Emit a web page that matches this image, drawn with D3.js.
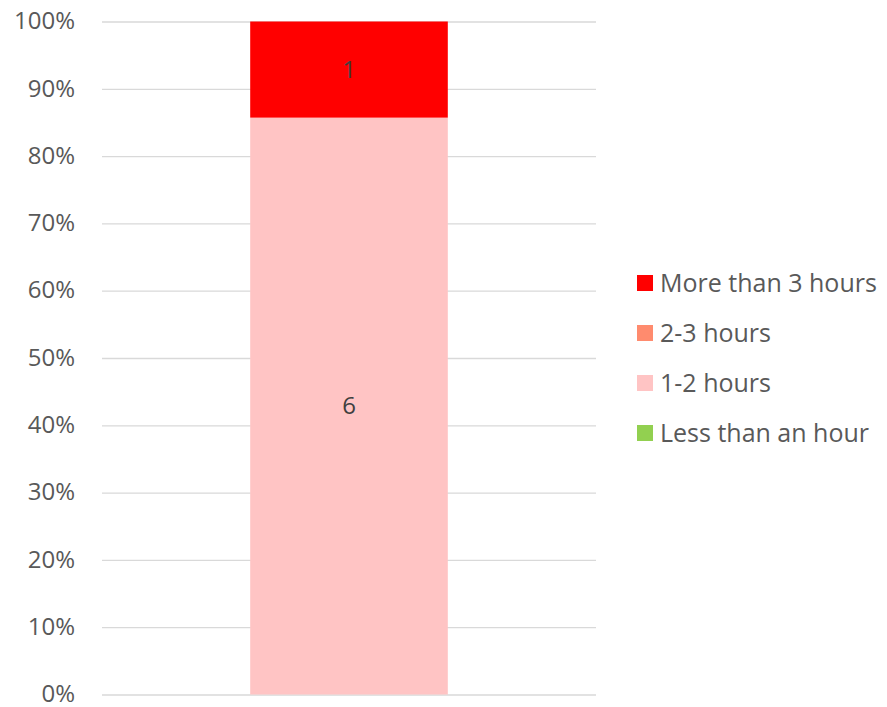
<!DOCTYPE html>
<html>
<head>
<meta charset="utf-8">
<script src="https://cdn.jsdelivr.net/npm/d3@7"></script>
<style>
  body { margin: 0; background: #fff; }
  svg { display: block; }
  svg text { font-family: 'Open Sans', 'Lato', sans-serif; }
</style>
</head>
<body>
<div id="chart"></div>
<script>

// data
var categories = ['Responses'];
var seriesNames = ['Less than an hour', '1-2 hours', '2-3 hours', 'More than 3 hours'];
var seriesColors = ['#92D050', '#FFC4C4', '#FF8B6E', '#FF0000'];
var seriesValues = [[0], [6], [0], [1]];
var tickValues = [0, 0.1, 0.2, 0.3, 0.4, 0.5, 0.6, 0.7, 0.8, 0.9, 1];

var width = 887, height = 707;
var plot = { left: 102, right: 596, top: 21.5, bottom: 694.5 };
var fontSize = '24px';

var svg = d3.select('#chart').append('svg')
  .attr('width', width)
  .attr('height', height);

var x = d3.scaleBand()
  .domain(categories)
  .range([plot.left, plot.right])
  .paddingInner(0.6)
  .paddingOuter(0.3);

var y = d3.scaleLinear()
  .domain([0, 1])
  .range([plot.bottom, plot.top]);

// build stacked percentages
var rows = categories.map(function(c, i) {
  var r = { cat: c };
  var total = 0;
  seriesNames.forEach(function(n, j) { r[n] = seriesValues[j][i]; total += seriesValues[j][i]; });
  r.total = total;
  return r;
});

var stack = d3.stack()
  .keys(seriesNames)
  .value(function(d, key) { return d[key] / d.total; });

var layers = stack(rows);

// gridlines + tick labels
var yAxis = d3.axisLeft(y)
  .tickValues(tickValues)
  .tickSize(-(plot.right - plot.left))
  .tickPadding(27)
  .tickFormat(d3.format('.0%'));

var gAxis = svg.append('g')
  .attr('transform', 'translate(' + plot.left + ',0)')
  .call(yAxis)
  .attr('font-family', null)
  .attr('font-size', null);

gAxis.select('.domain').remove();
gAxis.selectAll('.tick line').attr('stroke', '#D9D9D9').attr('stroke-width', 1.3);
gAxis.selectAll('.tick text')
  .attr('fill', '#595959')
  .attr('dy', '0.3em')
  .style('font-size', fontSize);

// bars
var gLayers = svg.append('g').selectAll('g')
  .data(layers)
  .enter().append('g')
  .attr('fill', function(d, i) { return seriesColors[i]; });

gLayers.selectAll('rect')
  .data(function(d) { return d; })
  .enter().append('rect')
  .attr('x', function(d) { return x(d.data.cat); })
  .attr('width', x.bandwidth())
  .attr('y', function(d) { return y(d[1]); })
  .attr('height', function(d) { return y(d[0]) - y(d[1]); });

// data labels
layers.forEach(function(layer) {
  layer.forEach(function(d) {
    var v = d.data[layer.key];
    if (!v) return;
    svg.append('text')
      .attr('x', x(d.data.cat) + x.bandwidth() / 2)
      .attr('y', (y(d[0]) + y(d[1])) / 2)
      .attr('dy', '0.35em')
      .attr('text-anchor', 'middle')
      .attr('fill', '#404040')
      .style('font-size', fontSize)
      .text(v);
  });
});

// legend, top series first
var legendNames = seriesNames.slice().reverse();
var legendColors = seriesColors.slice().reverse();

var legend = svg.append('g')
  .attr('transform', 'translate(637,283)');

var item = legend.selectAll('g')
  .data(legendNames)
  .enter().append('g')
  .attr('transform', function(d, i) { return 'translate(0,' + (i * 50) + ')'; });

item.append('rect')
  .attr('x', 0)
  .attr('y', -8)
  .attr('width', 16)
  .attr('height', 16)
  .attr('fill', function(d, i) { return legendColors[i]; });

item.append('text')
  .attr('x', 23)
  .attr('dy', '0.35em')
  .attr('fill', '#595959')
  .style('font-size', '25px')
  .text(function(d) { return d; });

</script>
</body>
</html>
